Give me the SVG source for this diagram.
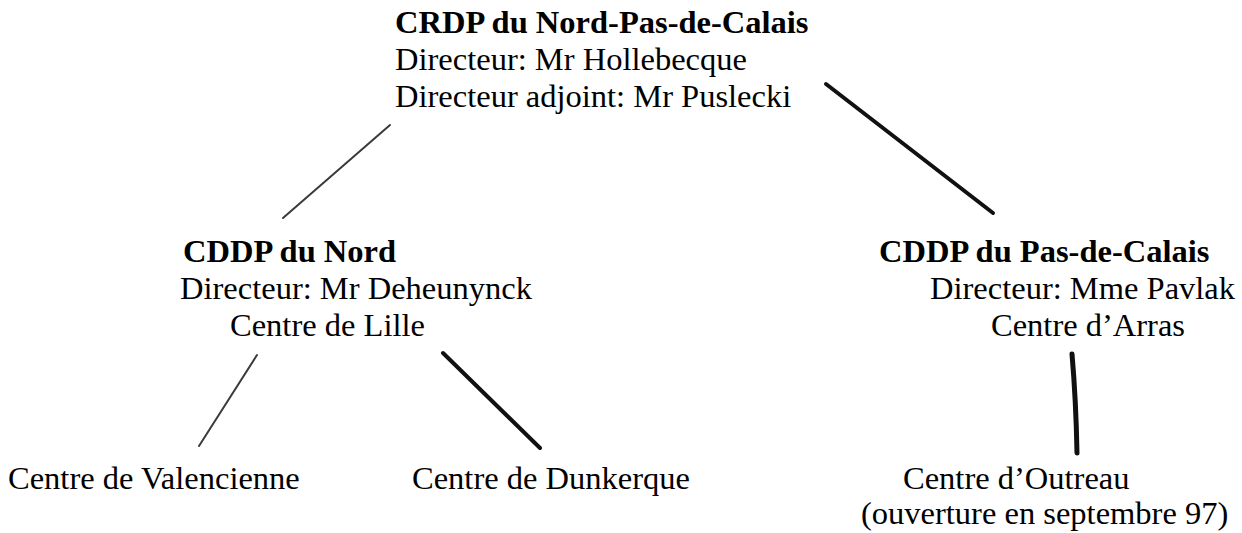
<svg xmlns="http://www.w3.org/2000/svg" width="1242" height="533" viewBox="0 0 1242 533">
<style>
text{font-family:"Liberation Serif","Times New Roman",serif;font-size:32.5px;fill:#000}
.b{font-weight:bold}
.thin{stroke:#3a3a3a;stroke-width:2;stroke-linecap:round;fill:none}
.thick{stroke:#111;stroke-width:4;stroke-linecap:round;fill:none}
</style>
<rect width="1242" height="533" fill="#fff"/>
<g id="connectors">
<line class="thin" x1="390" y1="125" x2="283" y2="218"/>
<line class="thick" x1="826" y1="84" x2="993" y2="213"/>
<line class="thin" x1="257" y1="355" x2="199" y2="446"/>
<line class="thick" x1="443" y1="353" x2="540" y2="448"/>
<path class="thick" d="M1072 354 Q1076 400 1077 453" style="stroke-width:5"/>
</g>
<g id="crdp">
<text class="b" x="395" y="33">CRDP du Nord-Pas-de-Calais</text>
<text x="395" y="70">Directeur: Mr Hollebecque</text>
<text x="395" y="107">Directeur adjoint: Mr Puslecki</text>
</g>
<g id="cddp-nord">
<text class="b" x="183" y="262">CDDP du Nord</text>
<text x="180" y="299">Directeur: Mr Deheunynck</text>
<text x="230" y="336">Centre de Lille</text>
</g>
<g id="cddp-pdc">
<text class="b" x="879" y="262">CDDP du Pas-de-Calais</text>
<text x="930" y="299">Directeur: Mme Pavlak</text>
<text x="991" y="336">Centre d’Arras</text>
</g>
<g id="valencienne">
<text x="8" y="489">Centre de Valencienne</text>
</g>
<g id="dunkerque">
<text x="412" y="489">Centre de Dunkerque</text>
</g>
<g id="outreau">
<text x="903" y="489">Centre d’Outreau</text>
<text x="861" y="524">(ouverture en septembre 97)</text>
</g>
</svg>
